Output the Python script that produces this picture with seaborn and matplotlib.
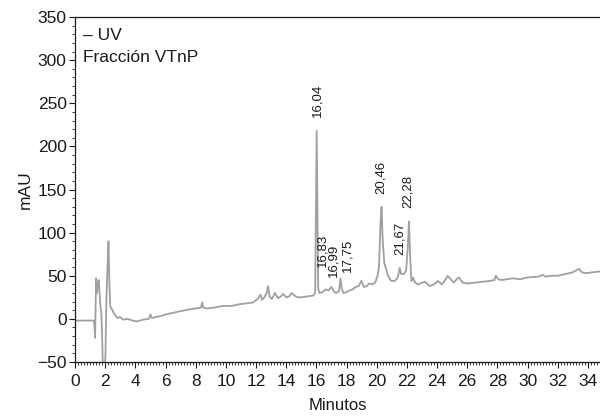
import matplotlib
matplotlib.use("Agg")
import matplotlib.pyplot as plt
from matplotlib.ticker import MultipleLocator
import pandas as pd
import seaborn as sns

# %% data
minutos = [0, 1.25, 1.30, 1.33, 1.36, 1.40, 1.45, 1.52, 1.58, 1.66, 1.75, 1.80, 1.85, 1.95,
           2.02, 2.08, 2.15, 2.22, 2.28, 2.34, 2.45, 2.6, 2.8, 3.0, 3.2, 3.5, 3.8, 4.1, 4.5,
           4.9, 5.0, 5.1, 5.3, 5.6, 6.0, 6.5, 7.0, 7.6, 8.0, 8.35, 8.43, 8.5, 8.7, 9.2, 9.8,
           10.4, 10.9, 11.4, 11.8, 12.1, 12.3, 12.4, 12.55, 12.7, 12.8, 12.9, 13.05, 13.25,
           13.45, 13.65, 13.8, 14.0, 14.2, 14.35, 14.55, 14.75, 15.0, 15.4, 15.8, 15.92,
           15.97, 16.02, 16.07, 16.12, 16.2, 16.4, 16.6, 16.8, 17.0, 17.15, 17.3, 17.5, 17.6,
           17.68, 17.8, 18.0, 18.2, 18.4, 18.6, 18.8, 18.98, 19.15, 19.35, 19.5, 19.7, 19.9,
           20.05, 20.15, 20.25, 20.32, 20.4, 20.5, 20.6, 20.75, 20.95, 21.2, 21.4, 21.52,
           21.62, 21.8, 21.95, 22.05, 22.14, 22.22, 22.3, 22.4, 22.55, 22.75, 23.0, 23.2,
           23.5, 23.8, 24.06, 24.3, 24.5, 24.7, 24.9, 25.1, 25.3, 25.45, 25.7, 26.0, 26.5,
           27.0, 27.5, 27.8, 27.9, 28.05, 28.3, 29.0, 29.5, 30.0, 30.7, 31.0, 31.2, 31.6,
           32.0, 32.5, 33.0, 33.4, 33.6, 33.9, 34.3, 34.8]
mau = [-2, -2, -10, -22, 10, 47, 30, 42, 45, 20, 5, -20, -60, -70,
       -40, 20, 60, 90, 40, 14, 11, 6, 1, 2, -1, 0, -2, -3, -1,
       0, 5, 1, 2, 3, 5, 7, 9, 11, 12, 13, 19, 13, 12, 13, 15,
       15, 17, 18, 19, 23, 28, 22, 25, 30, 38, 26, 23, 30,
       24, 26, 29, 25, 26, 30, 27, 25, 25, 26, 27, 30,
       120, 218, 120, 35, 30, 31, 34, 33, 37, 32, 30, 32, 47,
       35, 30, 31, 33, 34, 37, 38, 44, 37, 38, 41, 40, 42,
       50, 60, 110, 130, 90, 65, 59, 50, 44, 44, 48, 59,
       52, 52, 56, 80, 113, 70, 44, 48, 42, 40, 42, 43,
       38, 40, 44, 40, 44, 50, 46, 42, 46, 48, 42, 41, 42,
       43, 44, 45, 50, 46, 45, 47, 46, 48, 49, 51, 49, 50,
       50, 52, 54, 58, 54, 53, 54, 55]

picos = ["16,04", "16,83", "16,99", "17,75", "20,46", "21,67", "22,28"]
picos_x = [16.04, 16.4, 17.15, 18.05, 20.3, 21.5, 22.05]
picos_y = [234, 60, 49, 54, 145, 74, 128]

df = pd.DataFrame({"Minutos": minutos, "mAU": mau})

# %% plot
sns.set_style("ticks")
plt.rcParams["font.family"] = ["Liberation Sans", "DejaVu Sans"]

fig = plt.figure(figsize=(6, 4.17), dpi=100)
ax = fig.add_axes([0.125, 0.132, 0.875, 0.827])

sns.lineplot(data=df, x="Minutos", y="mAU", estimator=None, sort=False,
             color="#a0a0a0", linewidth=1.3, ax=ax)

for txt, px, py in zip(picos, picos_x, picos_y):
    ax.text(px, py, txt, rotation=90, ha="center", va="bottom", fontsize=9.5, color="#1a1a1a")

ax.text(0.015, 0.948, "\u2013 UV", transform=ax.transAxes, fontsize=12.5, va="center", color="#1a1a1a")
ax.text(0.015, 0.884, "Fracción VTnP", transform=ax.transAxes, fontsize=12.5, va="center", color="#1a1a1a")

ax.set_xlim(0, 34.8)
ax.set_ylim(-50, 350)
ax.xaxis.set_major_locator(MultipleLocator(2))
ax.xaxis.set_minor_locator(MultipleLocator(0.2))
ax.yaxis.set_major_locator(MultipleLocator(50))
ax.yaxis.set_minor_locator(MultipleLocator(10))
ax.tick_params(which="major", length=4, width=0.8, labelsize=12.5, colors="#1a1a1a", pad=2)
ax.tick_params(axis="x", which="major", pad=5)
ax.tick_params(which="minor", length=2, width=0.6, colors="#1a1a1a")
ax.spines["right"].set_visible(False)
for s in ["left", "bottom", "top"]:
    ax.spines[s].set_color("#1a1a1a")
    ax.spines[s].set_linewidth(0.9)

ax.set_xlabel("Minutos", fontsize=12, labelpad=6, color="#1a1a1a")
ax.set_ylabel("mAU", fontsize=12.5, labelpad=3, color="#1a1a1a")

fig.savefig("out.png", dpi=100)
